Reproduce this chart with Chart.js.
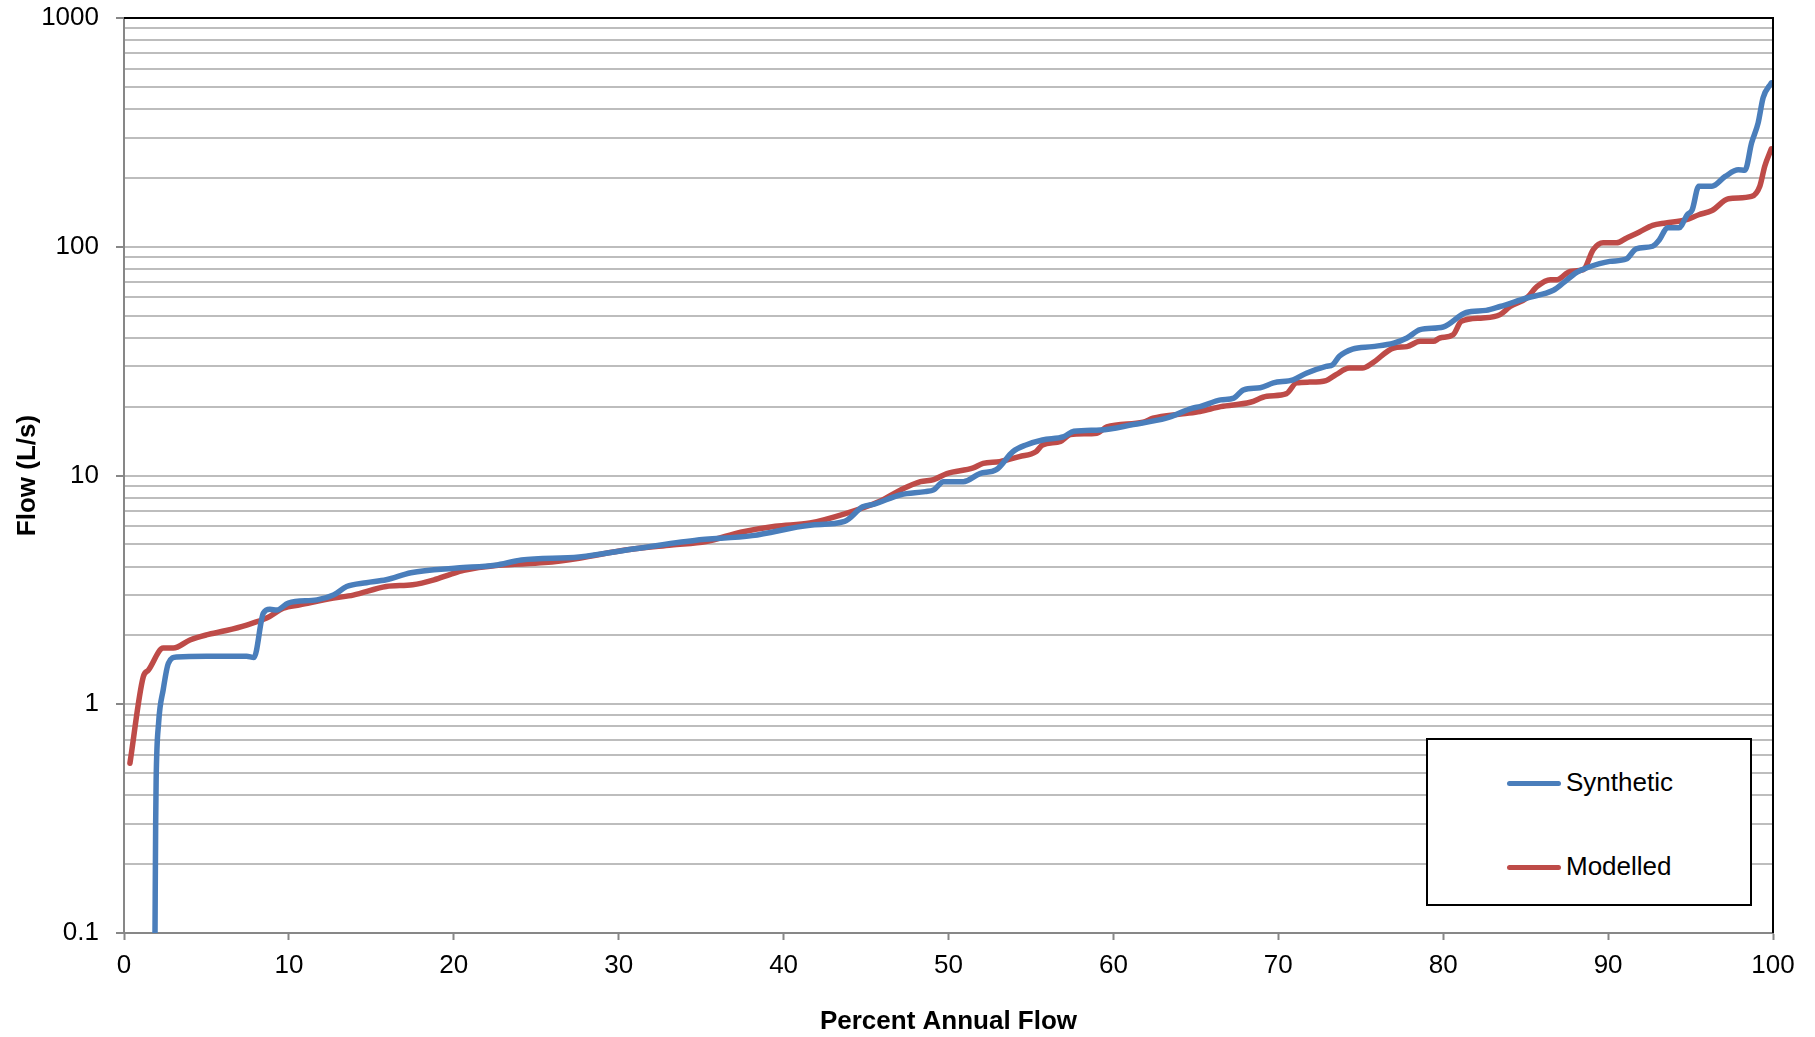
<!DOCTYPE html>
<html>
<head>
<meta charset="utf-8">
<script src="https://cdn.jsdelivr.net/npm/chart.js@4.4.1/dist/chart.umd.min.js"></script>
<style>
	body { margin: 0; background: #fff; }
	.wrap { position: relative; width: 1815px; height: 1037px; }
	.legend { position: absolute; left: 1426px; top: 738px; width: 322px; height: 164px; border: 2px solid #000; background: #fff; font-family: 'Liberation Sans', Arial, sans-serif; font-size: 26px; color: #000; }
	.legend .item { position: absolute; left: 79px; height: 30px; line-height: 30px; white-space: nowrap; }
	.legend .swatch { display: inline-block; width: 54px; height: 5px; border-radius: 3px; vertical-align: middle; margin-right: 5px; position: relative; top: -1px; }
</style>
</head>
<body>
<div class="wrap">
	<canvas id="flow_chart" width="1815" height="1037"></canvas>
	<div class="legend" id="legend"></div>
</div>
<script>
// percent of annual flow (x) and flow in L/s (y)
const synth_x = [1.88, 1.92, 1.95, 2.1, 2.38, 2.69, 3.2, 5.0, 7.44, 7.88, 8.45, 8.85, 9.26, 9.96, 11.7, 12.7, 13.5, 14.7, 15.9, 17.4,
	20.2, 22.5, 24.1, 27.6, 31.1, 34.6, 38.1, 41.6, 43.7, 44.8, 45.5, 47.1, 48.6, 49.1, 49.7, 50.9, 51.9, 52.9, 53.9, 54.7,
	55.7, 57.0, 57.6, 59.2, 61.2, 63.2, 64.8, 65.25, 66.5, 67.3, 67.9, 68.9, 69.7, 70.9, 71.7, 72.9, 73.3, 73.7, 74.5, 75.7,
	77.0, 77.8, 78.6, 80.0, 81.4, 82.6, 83.45, 85.06, 86.68, 87.28, 88.09, 88.69, 90.1, 91.1, 91.7, 92.7, 93.1, 93.6, 94.3, 94.8,
	95.1, 95.5, 96.3, 97.1, 97.9, 98.3, 98.7, 99.1, 99.4, 99.9];
const synth_y = [0.1, 0.3, 0.47, 0.83, 1.16, 1.51, 1.61, 1.62, 1.62, 1.60, 2.50, 2.60, 2.58, 2.77, 2.86, 3.0, 3.27, 3.40, 3.5, 3.76,
	3.94, 4.05, 4.27, 4.4, 4.8, 5.2, 5.46, 6.06, 6.3, 7.3, 7.5, 8.24, 8.5, 8.65, 9.4, 9.4, 10.2, 10.6, 12.7, 13.6,
	14.3, 14.8, 15.6, 15.8, 16.7, 17.8, 19.7, 20.0, 21.4, 21.8, 23.7, 24.2, 25.4, 26.2, 28.0, 30.0, 30.5, 33.2, 35.7, 36.6,
	37.9, 39.9, 43.4, 44.6, 51.6, 52.7, 54.8, 59.7, 64.5, 69.5, 77.3, 80.8, 86.3, 88.4, 97.8, 100.5, 107, 121, 121, 138,
	145, 184, 184, 203, 217, 216, 284, 348, 448, 521];

const model_x = [0.36, 1.17, 1.48, 2.38, 2.99, 4.0, 5.0, 6.2, 7.44, 8.65, 9.66, 10.67, 12.7, 13.9, 15.9, 17.5, 18.8, 19.8, 20.6, 22.7, 25.5,
	27.6, 30.4, 33.2, 35.3, 37.4, 39.5, 41.6, 43.7, 45.8, 47.1, 48.3, 49.1, 49.9, 51.5, 52.1, 53.1, 54.3, 55.3, 55.7, 56.8,
	57.4, 59.0, 59.6, 61.8, 62.4, 64.2, 65.25, 66.5, 68.3, 69.3, 70.5, 71.1, 71.9, 72.9, 73.5, 74.3, 75.1, 75.7, 77.0, 77.8,
	78.6, 79.4, 79.8, 80.6, 81.1, 82.4, 83.45, 84.06, 85.06, 85.7, 86.5, 86.9, 87.7, 88.5, 89.1, 89.7, 90.5, 91.1, 91.9, 92.7,
	93.5, 94.7, 95.5, 96.3, 97.3, 98.7, 99.2, 99.5, 99.9];
const model_y = [0.552, 1.32, 1.41, 1.76, 1.76, 1.91, 2.01, 2.10, 2.22, 2.38, 2.63, 2.72, 2.91, 3.0, 3.27, 3.33, 3.5, 3.7, 3.85, 4.05, 4.16,
	4.35, 4.72, 4.97, 5.15, 5.65, 6.0, 6.2, 6.8, 7.7, 8.65, 9.4, 9.6, 10.2, 10.8, 11.3, 11.5, 12.1, 12.7, 13.6, 14.1,
	15.1, 15.3, 16.3, 17.1, 17.8, 18.6, 19.05, 20.0, 20.9, 22.2, 22.8, 25.4, 25.6, 26.0, 27.6, 29.5, 29.5, 31.0, 36.1, 36.6,
	38.6, 38.6, 39.9, 41.2, 47.2, 48.8, 50.5, 54.8, 59.7, 67.1, 71.8, 71.8, 78, 79.4, 97.1, 104, 104, 109, 116, 124,
	127, 131, 138, 144, 162, 166, 184, 225, 268];

const x_ticks = [0, 10, 20, 30, 40, 50, 60, 70, 80, 90, 100];
const y_major = [0.1, 1, 10, 100, 1000];
const y_labels = ['0.1', '1', '10', '100', '1000'];

const font_family = "'Liberation Sans', Arial, sans-serif";

function to_points(xs, ys) {
	return xs.map((x, i) => ({x: x, y: ys[i]}));
}

// gridlines at 1..9 of every decade
function y_grid_values() {
	let out = [];
	for (let d = 0; d < y_major.length - 1; d ++) {
		for (let m = 1; m < 10; m ++) out.push(+(y_major[d] * m).toPrecision(3));
	}
	out.push(y_major[y_major.length - 1]);
	return out;
}

const frame_plugin = {
	id: 'frame',
	afterDatasetsDraw(chart) {
		const {ctx, chartArea: a} = chart;
		ctx.save();
		ctx.strokeStyle = '#000';
		ctx.lineWidth = 2;
		ctx.beginPath();
		ctx.moveTo(a.left, a.top);
		ctx.lineTo(a.right, a.top);
		ctx.lineTo(a.right, a.bottom);
		ctx.stroke();
		ctx.restore();
	}
};

const config = {
	type: 'line',
	data: {
		datasets: [
			{
				label: 'Synthetic',
				data: to_points(synth_x, synth_y),
				borderColor: '#4A7EBB',
				backgroundColor: '#4A7EBB',
			},
			{
				label: 'Modelled',
				data: to_points(model_x, model_y),
				borderColor: '#BE4B48',
				backgroundColor: '#BE4B48',
			}
		]
	},
	options: {
		responsive: false,
		animation: false,
		datasets: {
			line: {
				borderWidth: 5.5,
				pointRadius: 0,
				cubicInterpolationMode: 'monotone',
				borderCapStyle: 'round',
				borderJoinStyle: 'round',
			}
		},
		layout: {
			padding: {top: 18, right: 42, bottom: 0, left: 0}
		},
		plugins: {
			legend: {display: false},
			tooltip: {enabled: false}
		},
		scales: {
			x: {
				type: 'linear',
				min: 0,
				max: 100,
				afterFit(scale) {
					scale.height = 104;
					scale.paddingLeft = 0;
					scale.paddingRight = 0;
				},
				afterBuildTicks(scale) { scale.ticks = x_ticks.map(v => ({value: v})); },
				ticks: {
					color: '#000',
					padding: 10,
					font: {family: font_family, size: 26},
					maxRotation: 0,
					autoSkip: false
				},
				grid: {
					drawOnChartArea: false,
					tickLength: 7,
					tickColor: '#878787',
					tickWidth: 2
				},
				border: {color: '#878787', width: 2},
				title: {
					display: true,
					text: 'Percent Annual Flow',
					color: '#000',
					font: {family: font_family, size: 26, weight: 'bold'},
					padding: {top: 0, bottom: 0}
				}
			},
			y: {
				type: 'logarithmic',
				min: 0.1,
				max: 1000,
				afterFit(scale) {
					scale.width = 124;
					scale.paddingTop = 0;
					scale.paddingBottom = 0;
				},
				afterBuildTicks(scale) {
					scale.ticks = y_grid_values().map(v => ({value: v, major: y_major.includes(v)}));
				},
				ticks: {
					color: '#000',
					padding: 17,
					autoSkip: false,
					font: {family: font_family, size: 26},
					callback(value) {
						const i = y_major.indexOf(value);
						return i >= 0 ? y_labels[i] : '';
					}
				},
				grid: {
					color: '#bdbdbd',
					lineWidth: 2,
					tickLength: 8,
					tickColor: '#878787',
					tickWidth: ctx => (ctx.tick && y_major.includes(ctx.tick.value)) ? 2 : 0
				},
				border: {color: '#878787', width: 2},
				title: {
					display: true,
					text: 'Flow (L/s)',
					color: '#000',
					font: {family: font_family, size: 26, weight: 'bold'},
					padding: {top: 12, bottom: 0}
				}
			}
		}
	},
	plugins: [frame_plugin]
};

const chart = new Chart(document.getElementById('flow_chart'), config);

// legend box sitting inside the plot, built from the datasets
const legend = document.getElementById('legend');
chart.data.datasets.forEach((ds, i) => {
	const item = document.createElement('div');
	item.className = 'item';
	item.style.top = (27 + i * 84) + 'px';
	item.innerHTML = `<span class="swatch" style="background:${ds.borderColor}"></span>${ds.label}`;
	legend.appendChild(item);
});
</script>
</body>
</html>
